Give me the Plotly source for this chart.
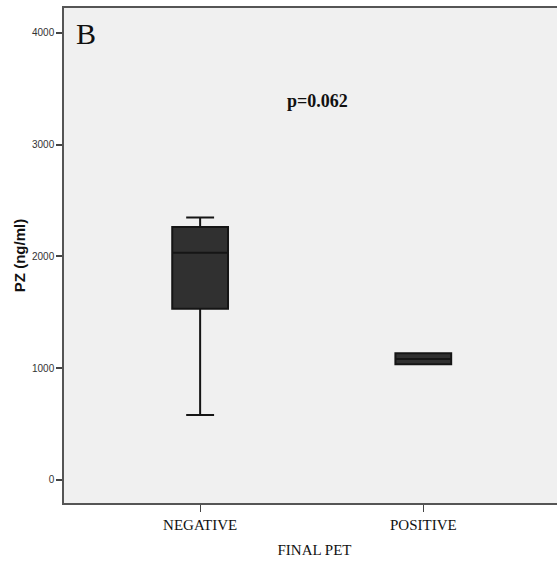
import plotly.graph_objects as go

categories = ["NEGATIVE", "POSITIVE"]
lower_fence = [582, 1036]
q1_vals = [1531, 1036]
medians = [2032, 1082]
q3_vals = [2262, 1134]
upper_fence = [2348, 1134]
y_ticks = [0, 1000, 2000, 3000, 4000]

fig = go.Figure()
fig.add_trace(go.Box(
    x=[0, 1],
    q1=q1_vals, median=medians, q3=q3_vals,
    lowerfence=lower_fence, upperfence=upper_fence,
    width=0.25, whiskerwidth=0.5,
    fillcolor="#303030",
    line=dict(color="#151515", width=2),
    showlegend=False, hoverinfo="skip",
))

fig.update_layout(
    width=565, height=565,
    margin=dict(l=64, r=0, t=8, b=62),
    paper_bgcolor="white",
    plot_bgcolor="#f0f0f0",
    showlegend=False,
    xaxis=dict(
        range=[-0.61, 1.635],
        tickmode="array", tickvals=[0, 1], ticktext=categories,
        ticks="outside", ticklen=7, tickcolor="#444", tickwidth=1,
        tickfont=dict(family="Liberation Serif", size=15, color="#111"),
        showline=True, linecolor="#555", linewidth=2, mirror=True,
        showgrid=False, zeroline=False,
        title=dict(text="FINAL PET", font=dict(family="Liberation Serif", size=15, color="#111"), standoff=12),
    ),
    yaxis=dict(
        range=[-206, 4222],
        tickmode="array", tickvals=y_ticks, ticktext=[str(v) for v in y_ticks],
        ticks="outside", ticklen=6, tickcolor="#444", tickwidth=1.5,
        tickfont=dict(family="Liberation Sans", size=10, color="#333"),
        showline=True, linecolor="#555", linewidth=1.5,
        showgrid=False, zeroline=False,
        title=dict(text="<b>PZ (ng/ml)</b>", font=dict(family="Liberation Sans", size=15, color="#111"), standoff=3),
    ),
)

fig.add_annotation(text="B", xref="paper", yref="paper", x=0.0439, y=0.949,
                   xanchor="center", yanchor="middle",
                   showarrow=False, font=dict(family="Liberation Serif", size=30, color="#111"))
fig.add_annotation(text="<b>p=0.062</b>", xref="paper", yref="paper", x=0.506, y=0.812,
                   xanchor="center", yanchor="middle",
                   showarrow=False, font=dict(family="Liberation Serif", size=18, color="#111"))

fig.write_html("out.html", config={"displayModeBar": False},
               post_script="document.body.style.margin='0px';document.body.style.overflow='hidden';")
